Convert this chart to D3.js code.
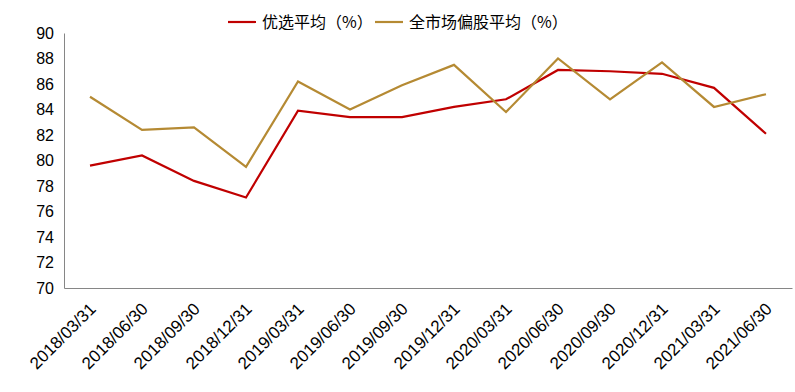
<!DOCTYPE html>
<html>
<head>
<meta charset="utf-8">
<script src="https://cdn.jsdelivr.net/npm/d3@7"></script>
<style>
  body { margin: 0; background: #fff; }
  svg { display: block; }
</style>
</head>
<body>
<div id="chart"></div>
<script>
// data
const dates = ["2018/03/31", "2018/06/30", "2018/09/30", "2018/12/31", "2019/03/31", "2019/06/30",
  "2019/09/30", "2019/12/31", "2020/03/31", "2020/06/30", "2020/09/30", "2020/12/31", "2021/03/31", "2021/06/30"];
const youxuan = [79.6, 80.4, 78.4, 77.1, 83.9, 83.4, 83.4, 84.2, 84.8, 87.1, 87.0, 86.8, 85.7, 82.1];
const quanshichang = [85.0, 82.4, 82.6, 79.5, 86.2, 84.0, 85.9, 87.5, 83.8, 88.0, 84.8, 87.7, 84.2, 85.2];
const yTicks = [70, 72, 74, 76, 78, 80, 82, 84, 86, 88, 90];
const seriesNames = ["优选平均（%）", "全市场偏股平均（%）"];

const W = 795, H = 392;
const mLeft = 64, mRight = 792, mTop = 33, mBottom = 288;
const colors = ["#C00000", "#B58A33"];

let svg = d3.select("#chart").append("svg")
  .attr("width", W)
  .attr("height", H);

let x = d3.scaleBand()
  .domain(dates)
  .range([mLeft, mRight]);

let y = d3.scaleLinear()
  .domain([70, 90])
  .range([mBottom, mTop]);

// y axis
let yAxis = svg.append("g")
  .attr("transform", "translate(" + mLeft + ",0)")
  .call(d3.axisLeft(y).tickValues(yTicks).tickSize(0).tickPadding(10));
yAxis.select(".domain").attr("stroke", "#868686").attr("stroke-width", 1);
yAxis.selectAll("text")
  .style("font-family", "'Liberation Sans', Arial, sans-serif")
  .style("font-size", "16px")
  .attr("fill", "#000");

// x axis
let xAxis = svg.append("g")
  .attr("transform", "translate(0," + mBottom + ")")
  .call(d3.axisBottom(x).tickSize(0).tickSizeOuter(0));
xAxis.select(".domain").attr("stroke", "#868686").attr("stroke-width", 1);
xAxis.selectAll("text")
  .style("font-family", "'Liberation Sans', Arial, sans-serif")
  .style("font-size", "17px")
  .attr("fill", "#000")
  .attr("text-anchor", "end")
  .attr("dy", null)
  .attr("y", 0)
  .attr("transform", "translate(7,22) rotate(-45)");

// lines
let line = d3.line()
  .x((d, i) => x(dates[i]) + x.bandwidth() / 2)
  .y(d => y(d));

[youxuan, quanshichang].forEach((s, k) => {
  svg.append("path")
    .datum(s)
    .attr("fill", "none")
    .attr("stroke", colors[k])
    .attr("stroke-width", 2.2)
    .attr("stroke-linejoin", "miter")
    .attr("d", line);
});

// legend
const legendX = [228, 375];
let legend = svg.append("g").attr("class", "legend");
seriesNames.forEach((n, k) => {
  let g = legend.append("g").attr("transform", "translate(" + legendX[k] + ",22)");
  g.append("line")
    .attr("x1", 0).attr("x2", 28)
    .attr("stroke", colors[k])
    .attr("stroke-width", 2.2);
  g.append("text")
    .attr("x", 34)
    .attr("y", 5.5)
    .style("font-family", "'Noto Sans CJK SC', sans-serif")
    .style("font-size", "16px")
    .attr("fill", "#000")
    .text(n);
});
</script>
</body>
</html>
